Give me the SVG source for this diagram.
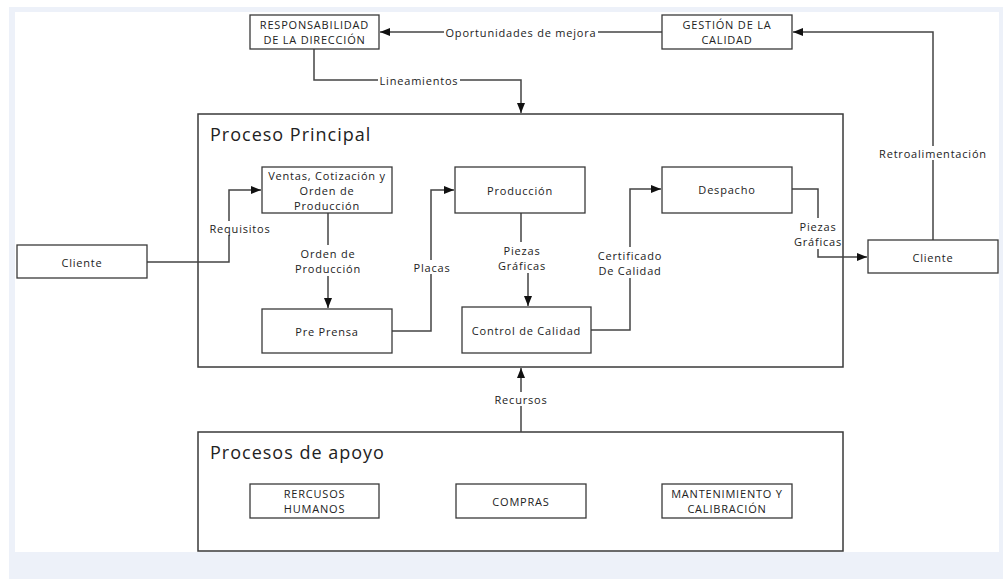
<svg xmlns="http://www.w3.org/2000/svg" width="1003" height="579" viewBox="0 0 1003 579">
<style>
.box{fill:#fff;stroke:#3a3a3a;stroke-width:1.3}
.cont{fill:#fff;stroke:#3a3a3a;stroke-width:1.5}
.t{font-family:"Open Sans","Liberation Sans",sans-serif;font-size:11px;letter-spacing:0.8px;fill:#222;text-anchor:middle;dominant-baseline:central}
.title{font-family:"Open Sans","Liberation Sans",sans-serif;font-size:18px;fill:#222;dominant-baseline:central;letter-spacing:1px}
.ln{fill:none;stroke:#444;stroke-width:1.5}
.lb{fill:#fff}
</style>
<defs>
<marker id="ah" markerUnits="userSpaceOnUse" markerWidth="10" markerHeight="10" viewBox="0 0 10 10" refX="10" refY="5" orient="auto">
<path d="M0,1 L10,5 L0,9 Z" fill="#111"/>
</marker>
</defs>
<rect width="1003" height="579" fill="#fff"/>
<rect x="9" y="7" width="994" height="572" fill="#edf1f9"/>
<rect x="15" y="12" width="984" height="540" fill="#fff"/>

<g id="proceso-principal">
<rect class="cont" x="198" y="114" width="645" height="253"/>
<text class="title" x="210" y="134">Proceso Principal</text>
</g>
<g id="procesos-apoyo">
<rect class="cont" x="198" y="432" width="645" height="119"/>
<text class="title" x="210" y="452">Procesos de apoyo</text>
</g>

<g id="connectors">
<path class="ln" d="M662,32 H380" marker-end="url(#ah)"/>
<path class="ln" d="M314,49 V80 H521 V113" marker-end="url(#ah)"/>
<path class="ln" d="M933,240 V32 H793" marker-end="url(#ah)"/>
<path class="ln" d="M147,262 H229 V190 H261" marker-end="url(#ah)"/>
<path class="ln" d="M328,213 V308" marker-end="url(#ah)"/>
<path class="ln" d="M392,331 H431 V190 H454" marker-end="url(#ah)"/>
<path class="ln" d="M521,213 V258 H528 V306" marker-end="url(#ah)"/>
<path class="ln" d="M591,330 H630 V189 H661" marker-end="url(#ah)"/>
<path class="ln" d="M792,189 H818 V257 H867" marker-end="url(#ah)"/>
<path class="ln" d="M521,432 V368" marker-end="url(#ah)"/>

<rect class="lb" x="444" y="25" width="154" height="14"/>
<text class="t" x="521" y="32">Oportunidades de mejora</text>
<rect class="lb" x="378" y="73" width="82" height="14"/>
<text class="t" x="419" y="80">Lineamientos</text>
<rect class="lb" x="879" y="146" width="110" height="14"/>
<text class="t" x="933" y="153">Retroalimentación</text>
<rect class="lb" x="208" y="221" width="64" height="14"/>
<text class="t" x="240" y="228">Requisitos</text>
<rect class="lb" x="294" y="245" width="68" height="31"/>
<text class="t" x="328" y="253">Orden de</text>
<text class="t" x="328" y="268">Producción</text>
<rect class="lb" x="411" y="260" width="42" height="14"/>
<text class="t" x="432" y="267">Placas</text>
<rect class="lb" x="494" y="242" width="56" height="31"/>
<text class="t" x="522" y="250">Piezas</text>
<text class="t" x="522" y="265">Gráficas</text>
<rect class="lb" x="595" y="247" width="70" height="31"/>
<text class="t" x="630" y="255">Certificado</text>
<text class="t" x="630" y="270">De Calidad</text>
<rect class="lb" x="793" y="218" width="49" height="31"/>
<text class="t" x="818" y="226">Piezas</text>
<text class="t" x="818" y="241">Gráficas</text>
<rect class="lb" x="490" y="392" width="62" height="14"/>
<text class="t" x="521" y="399">Recursos</text>
</g>

<g id="responsabilidad">
<rect class="box" x="250" y="15" width="129" height="34"/>
<text class="t" x="314.5" y="24.5">RESPONSABILIDAD</text>
<text class="t" x="314.5" y="39.5">DE LA DIRECCIÓN</text>
</g>
<g id="gestion">
<rect class="box" x="662" y="15" width="130" height="34"/>
<text class="t" x="727" y="24.5">GESTIÓN DE LA</text>
<text class="t" x="727" y="39.5">CALIDAD</text>
</g>
<g id="cliente-in">
<rect class="box" x="17" y="245" width="130" height="33"/>
<text class="t" x="82" y="262">Cliente</text>
</g>
<g id="ventas">
<rect class="box" x="262" y="167" width="130" height="46"/>
<text class="t" x="327" y="175">Ventas, Cotización y</text>
<text class="t" x="327" y="190">Orden de</text>
<text class="t" x="327" y="205">Producción</text>
</g>
<g id="preprensa">
<rect class="box" x="262" y="309" width="130" height="44"/>
<text class="t" x="327" y="331">Pre Prensa</text>
</g>
<g id="produccion">
<rect class="box" x="455" y="167" width="130" height="46"/>
<text class="t" x="520" y="190">Producción</text>
</g>
<g id="control">
<rect class="box" x="462" y="307" width="129" height="46"/>
<text class="t" x="526.5" y="330">Control de Calidad</text>
</g>
<g id="despacho">
<rect class="box" x="662" y="167" width="130" height="46"/>
<text class="t" x="727" y="189">Despacho</text>
</g>
<g id="cliente-out">
<rect class="box" x="868" y="240" width="130" height="33"/>
<text class="t" x="933" y="257">Cliente</text>
</g>
<g id="rrhh">
<rect class="box" x="250" y="484" width="129" height="34"/>
<text class="t" x="314.5" y="493.5">RERCUSOS</text>
<text class="t" x="314.5" y="508.5">HUMANOS</text>
</g>
<g id="compras">
<rect class="box" x="456" y="484" width="130" height="34"/>
<text class="t" x="521" y="501">COMPRAS</text>
</g>
<g id="mantenimiento">
<rect class="box" x="662" y="484" width="130" height="34"/>
<text class="t" x="727" y="493.5">MANTENIMIENTO Y</text>
<text class="t" x="727" y="508.5">CALIBRACIÓN</text>
</g>
</svg>
